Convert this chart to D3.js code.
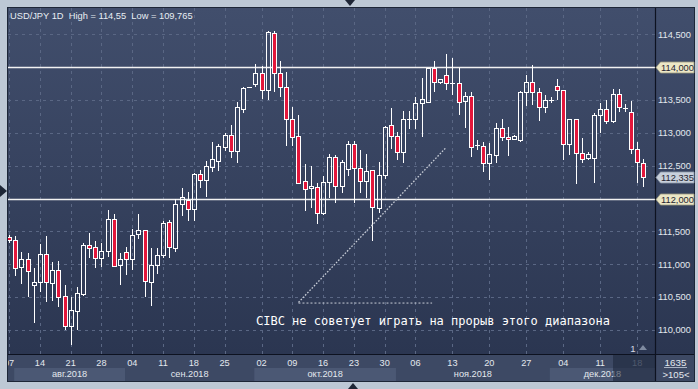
<!DOCTYPE html>
<html><head><meta charset="utf-8">
<script src="https://cdn.jsdelivr.net/npm/d3@7/dist/d3.min.js"></script>
<style>html,body{margin:0;padding:0;background:#bdc8d5;overflow:hidden}svg{display:block}</style>
</head><body>
<svg id="c" width="698" height="389"></svg>
<script>
// ---- data (USD/JPY daily candles) ----
const opens = [111.42,111.37,110.96,111.08,110.68,110.73,111.16,110.71,110.91,110.52,110.06,110.29,110.55,111.29,111.26,111.10,111.20,111.69,110.99,111.19,111.08,111.46,111.52,110.73,110.99,111.14,111.64,111.25,111.92,111.98,111.84,112.37,112.28,112.48,112.57,112.79,112.97,112.72,113.36,113.70,113.74,113.91,113.65,114.52,113.91,113.70,113.21,112.95,112.27,112.16,112.18,111.78,112.25,112.63,112.19,112.45,112.83,112.47,112.27,112.44,111.86,112.36,113.12,112.95,112.71,113.21,113.21,113.46,113.47,113.99,113.77,113.88,113.76,113.76,113.49,113.56,112.82,112.80,112.54,112.66,113.07,112.94,112.91,112.89,113.62,113.77,113.62,113.39,113.50,113.71,113.65,112.83,113.21,112.69,112.62,112.62,113.27,113.36,113.18,113.59,113.38,113.32,112.76,112.54];
const highs = [111.45,111.43,111.19,111.17,110.94,111.31,111.43,111.04,111.05,110.69,110.50,110.65,111.32,111.48,111.35,111.32,111.83,111.76,111.17,111.26,111.54,111.77,111.52,111.25,111.25,111.66,111.67,111.99,112.16,112.10,112.39,112.44,112.57,112.86,112.83,113.00,113.12,113.47,113.70,113.70,114.05,114.02,114.55,114.55,114.09,113.93,113.39,113.27,112.53,112.50,112.24,112.34,112.68,112.66,112.59,112.88,112.88,112.74,112.68,112.44,112.56,113.11,113.38,113.01,113.33,113.33,113.55,113.84,113.99,114.09,113.82,114.20,114.14,113.99,113.62,113.62,112.89,112.86,112.85,113.15,113.21,113.09,112.97,113.64,113.88,114.03,113.68,113.58,113.55,113.82,113.65,113.21,113.21,112.92,112.71,113.30,113.46,113.50,113.67,113.67,113.44,113.49,112.86,112.60];
const lows = [111.32,110.82,110.70,110.50,110.11,110.58,110.43,110.44,110.35,110.00,109.765,110.00,110.52,111.10,110.94,110.96,111.11,110.96,110.69,110.84,110.91,111.39,110.50,110.37,110.85,111.10,111.10,111.19,111.73,111.66,111.66,112.16,112.02,112.40,112.42,112.72,112.62,112.54,113.30,113.70,113.70,113.52,113.50,113.62,113.55,112.80,112.80,112.22,111.81,111.86,111.61,111.75,112.01,111.93,112.09,112.34,111.93,112.09,112.01,111.35,111.78,112.30,112.75,112.59,112.54,113.06,113.06,112.94,113.46,113.62,113.74,113.65,113.58,113.27,113.07,112.63,112.74,112.40,112.28,112.54,112.88,112.65,112.89,112.86,113.41,113.42,113.18,113.30,113.45,113.50,112.59,112.66,112.22,112.54,112.59,112.24,113.00,113.14,113.15,113.32,113.32,112.68,112.24,112.18];
const closes = [111.37,110.94,111.08,110.90,110.73,111.16,110.73,110.91,110.50,110.06,110.30,110.56,111.29,111.25,111.10,111.20,111.69,110.97,111.08,111.08,111.45,111.52,110.75,110.99,111.14,111.63,111.26,111.92,112.03,111.84,112.37,112.28,112.50,112.60,112.80,112.97,112.72,113.39,113.68,113.70,113.91,113.65,114.54,113.91,113.70,113.21,112.94,112.24,112.15,112.19,111.78,112.25,112.63,112.19,112.56,112.83,112.47,112.27,112.42,111.87,112.36,113.09,112.95,112.71,113.21,113.21,113.46,113.52,113.99,113.77,113.82,113.76,113.76,113.47,113.56,112.79,112.82,112.54,112.68,113.07,112.94,112.91,112.95,113.62,113.77,113.62,113.39,113.50,113.50,113.65,112.83,113.21,112.69,112.60,112.68,113.27,113.36,113.18,113.59,113.39,113.38,112.76,112.56,112.335];

const tickIndex = [0,5,10,15,20,25,30,35,41,46,51,56,61,66,72,78,84,90,96,102];
const tickLabels = ["07","14","21","28","04","11","18","25","02","09","16","23","30","06","13","20","27","04","11","18"];
const monthLabels = ["авг.2018","сен.2018","окт.2018","ноя.2018","дек.2018"];
const monthStartIndex = [1,19,40,63,88];
const priceTicks = [110,110.5,111,111.5,112,112.5,113,113.5,114,114.5];
const levelLines = [114,112];
const lastPrice = 112.335;
const trendLine = [[47,110.42],[71,112.78]];
const baseLine = [[47,110.41],[68.7,110.41]];
const titleText = "USD/JPY 1D  High = 114,55  Low = 109,765";
const noteText = "CIBC не советует играть на прорыв этого диапазона";
const barCount = "1635";
const visibleBars = ">105<";

// ---- layout ----
const P = {l:8, t:8, r:655, b:354, ab:381, rr:694};
const svg = d3.select("#c");
const n = opens.length;
const x = d3.scaleLinear().domain([0, n-1]).range([9.1, 643.3]);
const y = d3.scaleLinear().domain([110, 114.5]).range([330, 34.3]);
const fmt = v => d3.format(".3f")(v).replace(".", ",");

const defs = svg.append("defs");
const g = defs.append("linearGradient").attr("id","bg").attr("x1",0).attr("y1",0).attr("x2",0).attr("y2",1);
g.append("stop").attr("offset","0%").attr("stop-color","#414e6c");
g.append("stop").attr("offset","100%").attr("stop-color","#2b3651");
defs.append("clipPath").attr("id","plotClip").append("rect")
  .attr("x",P.l).attr("y",P.t).attr("width",P.r-P.l).attr("height",P.b-P.t);
defs.append("clipPath").attr("id","axClip").append("rect")
  .attr("x",P.l).attr("y",P.b).attr("width",P.r-P.l).attr("height",P.ab-P.b);

// outer frame
svg.append("rect").attr("width",698).attr("height",389).attr("fill","#bdc8d5");
svg.append("rect").attr("x",P.l-1).attr("y",P.t-1).attr("width",P.rr-P.l+2).attr("height",P.ab-P.t+2).attr("fill","#1d2637");
svg.append("rect").attr("x",P.l).attr("y",P.t).attr("width",P.rr-P.l).attr("height",P.b-P.t).attr("fill","url(#bg)");
svg.append("rect").attr("x",P.l).attr("y",P.b).attr("width",P.rr-P.l).attr("height",P.ab-P.b).attr("fill","#3d4964");

// month bands
const ax = svg.append("g").attr("clip-path","url(#axClip)");
const bandEdges = monthStartIndex.map(i => x(i-0.5)+2).concat([P.r]);
monthLabels.forEach((m,k) => {
  const x0 = bandEdges[k], x1 = bandEdges[k+1];
  if (k % 2 === 0) ax.append("rect").attr("x",x0).attr("y",368).attr("width",x1-x0).attr("height",13).attr("fill","#4b5874");
  ax.append("text").attr("x",(x0+x1)/2).attr("y",377).attr("text-anchor","middle")
    .attr("font-family","Liberation Sans, Arial, sans-serif").attr("font-size",9.2).attr("fill","#e3e8ee").text(m);
});
tickIndex.forEach((ti,k) => {
  ax.append("text").attr("x",x(ti)).attr("y",366).attr("text-anchor","middle")
    .attr("font-family","Liberation Sans, Arial, sans-serif").attr("font-size",9.2)
    .attr("fill", ti===102 ? "#8d99ad" : "#e3e8ee").text(tickLabels[k]);
});
// dimmed current-week box
ax.append("rect").attr("x",613).attr("y",P.b).attr("width",P.r-613).attr("height",P.ab-P.b).attr("fill","#1c2538").attr("opacity",0.55);

// grid
const plot = svg.append("g").attr("clip-path","url(#plotClip)");
plot.selectAll("line.hg").data(priceTicks).join("line")
  .attr("x1",P.l).attr("x2",P.r).attr("y1",d=>Math.round(y(d))+0.5).attr("y2",d=>Math.round(y(d))+0.5)
  .attr("stroke","#5a6784").attr("stroke-dasharray","3,4").attr("stroke-width",1);
plot.selectAll("line.vg").data(tickIndex).join("line")
  .attr("y1",P.t).attr("y2",P.b).attr("x1",d=>Math.round(x(d))+0.5).attr("x2",d=>Math.round(x(d))+0.5)
  .attr("stroke","#5a6784").attr("stroke-dasharray","3,4").attr("stroke-width",1);
plot.selectAll("line.lvl").data(levelLines).join("line")
  .attr("x1",P.l).attr("x2",P.r).attr("y1",d=>Math.round(y(d))+0.5).attr("y2",d=>Math.round(y(d))+0.5)
  .attr("stroke","#f2f2f2").attr("stroke-width",1.4);

// candles
const red = "#e3173b";
const idx = d3.range(n);
const cg = plot.append("g");
idx.forEach(i => {
  const cx = Math.round(x(i)) + 0.5;
  const o = opens[i], c = closes[i];
  const top = Math.round(y(Math.max(o,c))) + 0.5, bot = Math.round(y(Math.min(o,c))) + 0.5;
  const hy = Math.round(y(highs[i])), ly = Math.round(y(lows[i]));
  if (hy < top) cg.append("line").attr("x1",cx).attr("x2",cx).attr("y1",hy).attr("y2",top).attr("stroke","#fff").attr("stroke-width",1);
  if (ly > bot) cg.append("line").attr("x1",cx).attr("x2",cx).attr("y1",bot).attr("y2",ly).attr("stroke","#fff").attr("stroke-width",1);
  if (o === c) {
    cg.append("line").attr("x1",cx-2.5).attr("x2",cx+2.5).attr("y1",top).attr("y2",top).attr("stroke","#fff").attr("stroke-width",1);
  } else {
    cg.append("rect").attr("x",cx-2).attr("y",top).attr("width",4).attr("height",Math.max(bot-top,1))
      .attr("fill", c < o ? red : "none").attr("stroke","#fff").attr("stroke-width",1);
  }
});

// annotation
const ln = d3.line().x(d=>x(d[0])).y(d=>y(d[1]));
plot.append("path").attr("d",ln(trendLine)).attr("fill","none").attr("stroke","#c9ced8").attr("stroke-width",1.3).attr("stroke-dasharray","1.6,1.6");
plot.append("path").attr("d",ln(baseLine)).attr("fill","none").attr("stroke","#c9ced8").attr("stroke-width",1).attr("stroke-dasharray","2,2");
plot.append("text").attr("x",256).attr("y",325).attr("font-family","DejaVu Sans Mono, monospace").attr("font-size",12)
  .attr("fill","#ffffff").text(noteText);

// title
svg.append("text").attr("x",10).attr("y",18.5).attr("font-family","Liberation Sans, Arial, sans-serif").attr("font-size",9.3)
  .attr("fill","#e8edf3").attr("xml:space","preserve").style("white-space","pre").text(titleText);

// separators
svg.append("line").attr("x1",P.r+0.5).attr("x2",P.r+0.5).attr("y1",P.t).attr("y2",P.ab).attr("stroke","#0d1220").attr("stroke-width",1.2);
svg.append("line").attr("x1",P.l).attr("x2",P.rr).attr("y1",P.b+0.5).attr("y2",P.b+0.5).attr("stroke","#0d1220").attr("stroke-width",1.2);

// right axis
const ra = svg.append("g").attr("font-family","Liberation Sans, Arial, sans-serif").attr("font-size",9.3);
priceTicks.filter(v => !levelLines.includes(v)).forEach(v => {
  ra.append("text").attr("x",658).attr("y",y(v)+3.3).attr("fill","#e3e8ee").text(fmt(v));
});
function tag(v, fill, stroke) {
  const yy = Math.round(y(v)) + 0.5;
  ra.append("path").attr("d",`M656,${yy} L660.5,${yy-5.5} L694,${yy-5.5} L694,${yy+5.5} L660.5,${yy+5.5} Z`)
    .attr("fill",fill).attr("stroke",stroke).attr("stroke-width",0.8);
  ra.append("text").attr("x",661).attr("y",yy+3.3).attr("fill","#1f2430").text(fmt(v));
}
levelLines.forEach(v => tag(v, "#ece7c6", "#9c9a80"));
tag(lastPrice, "#c8d0db", "#8e99aa");

// bottom-right box
const br = svg.append("g").attr("font-family","Liberation Sans, Arial, sans-serif").attr("font-size",9.8).attr("fill","#e3e8ee").attr("text-anchor","middle");
br.append("text").attr("x",675.5).attr("y",365.5).text(barCount);
br.append("line").attr("x1",664).attr("x2",687).attr("y1",367.5).attr("y2",367.5).attr("stroke","#aab4c4").attr("stroke-width",1);
br.append("text").attr("x",676).attr("y",377.5).attr("font-size",9.5).text(visibleBars);

// small markers
svg.append("text").attr("x",633).attr("y",352).attr("text-anchor","middle").attr("font-family","Liberation Sans, Arial, sans-serif")
  .attr("font-size",9.5).attr("fill","#d6dce5").text("1");
svg.append("path").attr("d","M639,350 L643,345 L647,350 Z").attr("fill","#7e8aa0");
svg.append("path").attr("d","M0,185 L7,191 L0,197 Z").attr("fill","#1e2636");
svg.append("path").attr("d","M345,0 L355,0 L350,6 Z").attr("fill","#1e2636");
svg.append("path").attr("d","M348,389 L358,389 L353,383 Z").attr("fill","#1e2636");
</script>
</body></html>
